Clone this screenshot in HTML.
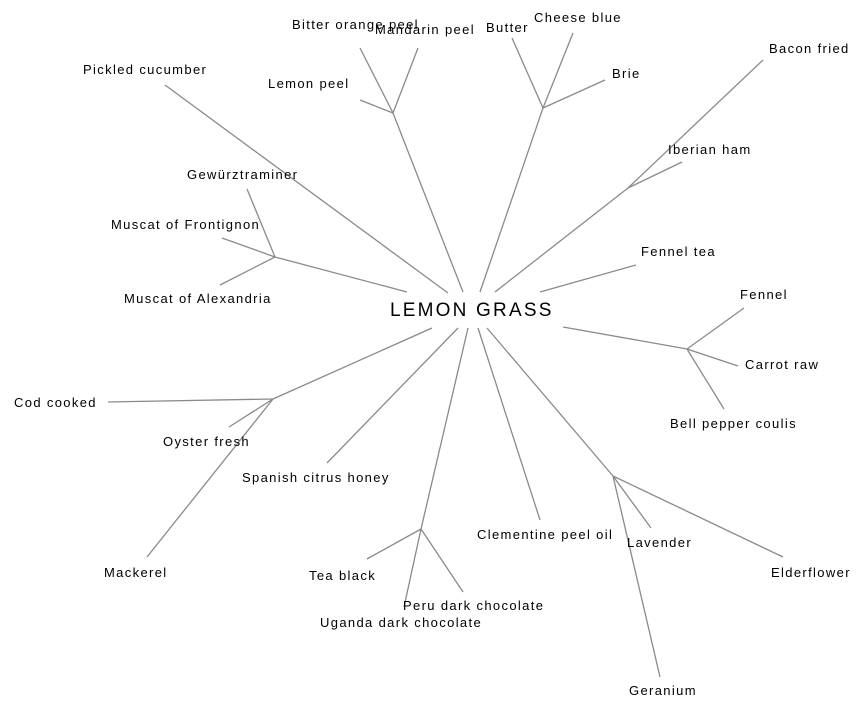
<!DOCTYPE html>
<html><head><meta charset="utf-8"><style>
html,body{margin:0;padding:0;background:#fff;}
svg{display:block;}
text{font-family:"Liberation Sans",Arial,sans-serif;font-size:13px;fill:#000;letter-spacing:1.35px;}
line{stroke:#8a8a8a;stroke-width:1.3;}
</style></head><body>
<svg width="864" height="710" viewBox="0 0 864 710" xmlns="http://www.w3.org/2000/svg">
<g>
<line x1="448" y1="293" x2="165" y2="85"/>
<line x1="463" y1="292" x2="393" y2="113"/>
<line x1="393" y1="113" x2="360" y2="48"/>
<line x1="393" y1="113" x2="418" y2="48"/>
<line x1="393" y1="113" x2="360" y2="100"/>
<line x1="480" y1="292" x2="543" y2="108"/>
<line x1="543" y1="108" x2="512" y2="38"/>
<line x1="543" y1="108" x2="573" y2="33"/>
<line x1="543" y1="108" x2="605" y2="80"/>
<line x1="495" y1="292" x2="628" y2="188"/>
<line x1="628" y1="188" x2="763" y2="60"/>
<line x1="628" y1="188" x2="682" y2="162"/>
<line x1="540" y1="292" x2="636" y2="265"/>
<line x1="563" y1="327" x2="687" y2="349"/>
<line x1="687" y1="349" x2="744" y2="308"/>
<line x1="687" y1="349" x2="738" y2="366"/>
<line x1="687" y1="349" x2="724" y2="409"/>
<line x1="407" y1="292" x2="275" y2="257"/>
<line x1="275" y1="257" x2="247" y2="189"/>
<line x1="275" y1="257" x2="222" y2="238"/>
<line x1="275" y1="257" x2="220" y2="285"/>
<line x1="432" y1="328" x2="273" y2="399"/>
<line x1="273" y1="399" x2="108" y2="402"/>
<line x1="273" y1="399" x2="229" y2="427"/>
<line x1="273" y1="399" x2="147" y2="557"/>
<line x1="458" y1="328" x2="327" y2="463"/>
<line x1="468" y1="328" x2="421" y2="529"/>
<line x1="421" y1="529" x2="367" y2="559"/>
<line x1="421" y1="529" x2="463" y2="592"/>
<line x1="421" y1="529" x2="404" y2="607"/>
<line x1="478" y1="328" x2="540" y2="520"/>
<line x1="487" y1="328" x2="613" y2="476"/>
<line x1="613" y1="476" x2="651" y2="528"/>
<line x1="613" y1="476" x2="783" y2="557"/>
<line x1="613" y1="476" x2="660" y2="677"/>
</g>
<text x="390" y="316" style="font-size:19px;letter-spacing:2.2px">LEMON GRASS</text>
<text x="83" y="74">Pickled cucumber</text>
<text x="292" y="29">Bitter orange peel</text>
<text x="375" y="34">Mandarin peel</text>
<text x="268" y="88">Lemon peel</text>
<text x="486" y="32">Butter</text>
<text x="534" y="22">Cheese blue</text>
<text x="612" y="78">Brie</text>
<text x="769" y="53">Bacon fried</text>
<text x="668" y="154">Iberian ham</text>
<text x="641" y="256">Fennel tea</text>
<text x="740" y="299">Fennel</text>
<text x="745" y="369">Carrot raw</text>
<text x="670" y="428">Bell pepper coulis</text>
<text x="187" y="179">Gewürztraminer</text>
<text x="111" y="229">Muscat of Frontignon</text>
<text x="124" y="303">Muscat of Alexandria</text>
<text x="14" y="407">Cod cooked</text>
<text x="163" y="446">Oyster fresh</text>
<text x="104" y="577">Mackerel</text>
<text x="242" y="482">Spanish citrus honey</text>
<text x="309" y="580">Tea black</text>
<text x="403" y="610">Peru dark chocolate</text>
<text x="320" y="627">Uganda dark chocolate</text>
<text x="477" y="539">Clementine peel oil</text>
<text x="627" y="547">Lavender</text>
<text x="771" y="577">Elderflower</text>
<text x="629" y="695">Geranium</text>
</svg>
</body></html>
